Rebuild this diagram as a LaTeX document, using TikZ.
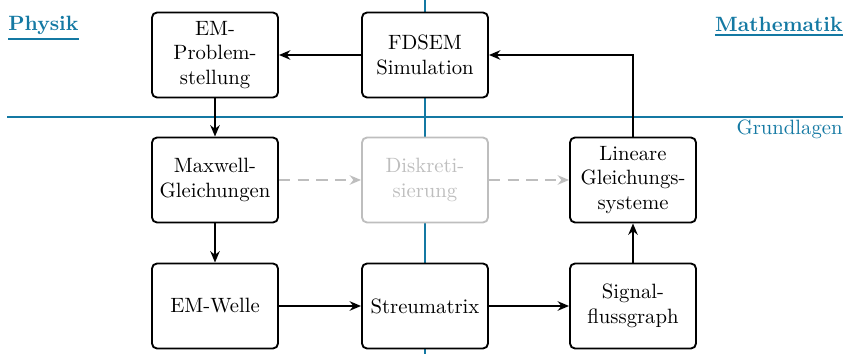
\documentclass[tikz,border=0pt]{standalone}
\usetikzlibrary{arrows.meta}
\definecolor{tblue}{RGB}{20,121,163}
\definecolor{lgray}{RGB}{190,190,190}
\begin{document}
\begin{tikzpicture}[x=0.483pt, y=-0.483pt,
  blk/.style={draw, line width=0.9pt, rounded corners=2.5pt, minimum width=60.9pt, minimum height=41.1pt, align=center, inner sep=2pt},
  ghost/.style={blk, draw=lgray, text=lgray},
  arr/.style={line width=0.8pt, -{Stealth[length=5.5pt,width=4.6pt]}},
  garr/.style={arr, draw=lgray, dashed, dash pattern=on 5.5pt off 3.5pt},
  sep/.style={draw=tblue, line width=0.8pt},
  uline/.style={draw=tblue, line width=1pt},
  lbl/.style={text=tblue, inner sep=0pt}]
\useasboundingbox (0,0) rectangle (850,354);
\coordinate (vt) at (425,0);
\coordinate (vb) at (425,354);
\coordinate (hl) at (7,117);
\coordinate (hr) at (843,117);
\draw[sep] (vt) -- (vb);
\draw[sep] (hl) -- (hr);
\node[lbl, anchor=base west] (phys) at (8,31) {\bfseries Physik};
\node[lbl, anchor=base east] (math) at (843,31.5) {\bfseries Mathematik};
\draw[uline] ([yshift=-1.5pt]phys.south west) -- ([yshift=-1.5pt]phys.south east);
\draw[uline] ([yshift=-1.5pt]math.south west) -- ([yshift=-1.5pt]math.south east);
\node[lbl, anchor=base east] (grund) at (843,135) {Grundlagen};
\node[blk] (emp) at (215,55) {EM-\\Problem-\\stellung};
\node[blk, fill=white] (fdsem) at (425,55) {FDSEM\\Simulation};
\node[blk] (max) at (215,180) {Maxwell-\\Gleichungen};
\node[ghost, fill=white] (disk) at (425,180) {Diskreti-\\sierung};
\node[blk] (lin) at (633,180) {Lineare\\Gleichungs-\\systeme};
\node[blk] (emw) at (215,306) {EM-Welle};
\node[blk, fill=white] (streu) at (425,306) {Streumatrix};
\node[blk] (sig) at (633,306) {Signal-\\flussgraph};
\draw[arr] (fdsem) -- (emp);
\draw[arr] (emp) -- (max);
\draw[arr] (max) -- (emw);
\draw[arr] (emw) -- (streu);
\draw[arr] (streu) -- (sig);
\draw[arr] (sig) -- (lin);
\draw[arr] (lin.north) |- (fdsem.east);
\draw[garr] (max) -- (disk);
\draw[garr] (disk) -- (lin);
\end{tikzpicture}
\end{document}
